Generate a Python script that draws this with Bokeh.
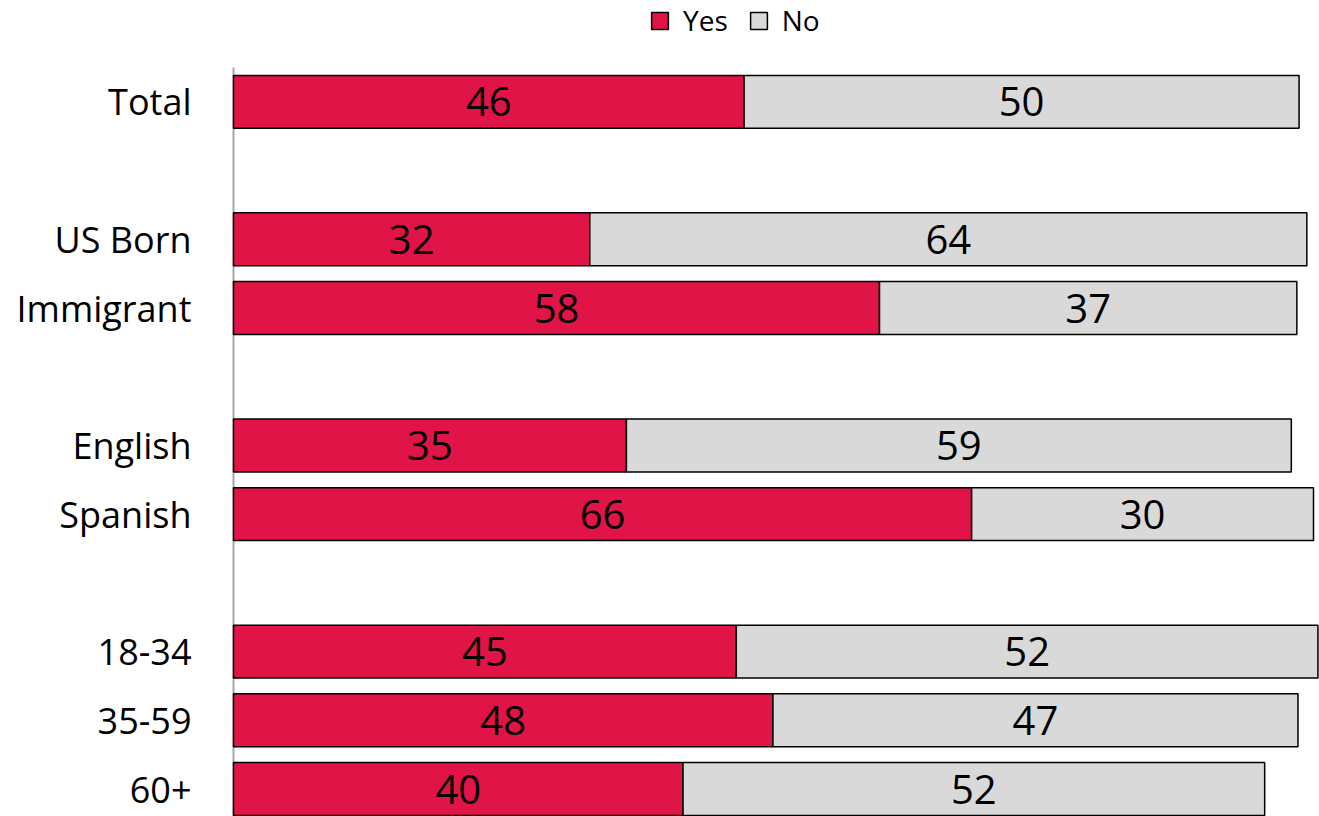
from bokeh.plotting import figure
from bokeh.models import ColumnDataSource, Range1d, FixedTicker, Legend, LegendItem
from bokeh.core.properties import value
from bokeh.embed import file_html
from bokeh.resources import INLINE

categories = ["Total", "US Born", "Immigrant", "English", "Spanish", "18-34", "35-59", "60+"]
slots = [0, 2, 3, 5, 6, 8, 9, 10]
yes_values = [46.0, 32.1, 58.2, 35.4, 66.5, 45.3, 48.6, 40.5]
no_values = [50.0, 64.6, 37.6, 59.9, 30.8, 52.4, 47.3, 52.4]
yes_labels = ["46", "32", "58", "35", "66", "45", "48", "40"]
no_labels = ["50", "64", "37", "59", "30", "52", "47", "52"]

RED = "#E11447"
GRAY = "#D9D9D9"
FONT = "Open Sans"

yes_mid = [v / 2 for v in yes_values]
no_mid = [y + n / 2 for y, n in zip(yes_values, no_values)]
no_right = [y + n for y, n in zip(yes_values, no_values)]

src = ColumnDataSource(dict(y=slots, yes=yes_values, no_right=no_right, zero=[0] * len(slots),
                            yes_mid=yes_mid, no_mid=no_mid,
                            yes_lab=yes_labels, no_lab=no_labels))

p = figure(width=1319, height=816, output_backend="svg", toolbar_location=None,
           x_range=Range1d(-0.18, 97.84), y_range=Range1d(10.40, -1.475),
           min_border_left=231, min_border_right=0, min_border_bottom=0, min_border_top=0)
p.outline_line_color = None
p.grid.visible = False
p.xaxis.visible = False

# axis line (only from the first bar slot downward)
p.segment(x0=[0], y0=[-0.5], x1=[0], y1=[10.40], line_color="#A6A6A6", line_width=2)

r_yes = p.hbar(y="y", left="zero", right="yes", height=0.77, source=src,
               fill_color=RED, line_color="black", line_width=1.5)
r_no = p.hbar(y="y", left="yes", right="no_right", height=0.77, source=src,
              fill_color=GRAY, line_color="black", line_width=1.5)

p.text(x="yes_mid", y="y", text="yes_lab", source=src, text_align="center",
       text_baseline="middle", text_font=value(FONT), text_font_size="40px", text_color="black")
p.text(x="no_mid", y="y", text="no_lab", source=src, text_align="center",
       text_baseline="middle", text_font=value(FONT), text_font_size="40px", text_color="black")

ya = p.yaxis[0]
ya.ticker = FixedTicker(ticks=slots)
ya.major_label_overrides = {s: c for s, c in zip(slots, categories)}
ya.major_tick_line_color = None
ya.minor_tick_line_color = None
ya.axis_line_color = None
ya.major_label_standoff = 34
ya.major_label_text_font = FONT
ya.major_label_text_font_size = "36px"
ya.major_label_text_color = "black"

legend = Legend(items=[LegendItem(label="Yes", renderers=[r_yes]),
                       LegendItem(label="No", renderers=[r_no])],
                orientation="horizontal", location=(418, 777),
                label_text_font=FONT, label_text_font_size="28px", label_text_color="black",
                glyph_width=21, glyph_height=21, spacing=20, padding=0, margin=0,
                border_line_color=None, background_fill_alpha=0, label_standoff=13)
p.add_layout(legend)

open("out.html", "w").write(file_html(p, INLINE))
